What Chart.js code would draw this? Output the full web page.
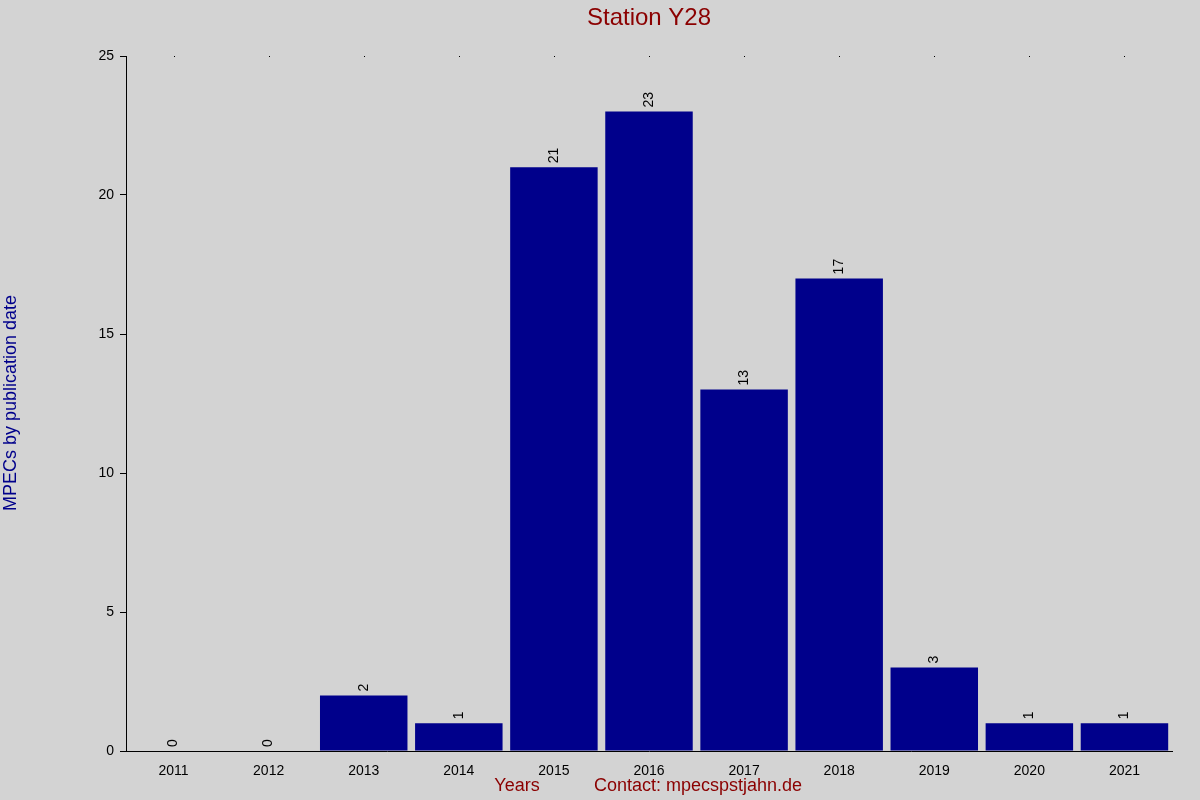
<!DOCTYPE html>
<html><head><meta charset="utf-8">
<script src="https://cdn.jsdelivr.net/npm/chart.js@4"></script>
<style>html,body{margin:0;padding:0;background:#d3d3d3;}#w{width:1200px;height:800px;}</style>
</head><body><div id="w"><canvas id="c"></canvas></div>
<script>
const years = ["2011","2012","2013","2014","2015","2016","2017","2018","2019","2020","2021"];
const counts = [0,0,2,1,21,23,13,17,3,1,1];
const yTicks = [0,5,10,15,20,25];
const FONT = "Liberation Sans, Arial, sans-serif";

const deco = {
  id:'deco',
  afterDatasetsDraw(chart){
    const ctx = chart.ctx, a = chart.chartArea, x = chart.scales.x;
    ctx.save();
    // top dots
    ctx.fillStyle='#000';
    years.forEach((_,i)=>{ctx.fillRect(Math.round(x.getPixelForValue(i)),a.top,1,1);});
    // value labels
    const meta = chart.getDatasetMeta(0);
    ctx.font = "14px "+FONT; ctx.fillStyle='#000';
    ctx.textAlign='left'; ctx.textBaseline='middle';
    meta.data.forEach((b,i)=>{
      ctx.save(); ctx.translate(b.x, b.y-4); ctx.rotate(-Math.PI/2);
      ctx.fillText(String(counts[i]),0,0); ctx.restore();
    });
    // title
    ctx.textAlign='center'; ctx.textBaseline='middle';
    ctx.fillStyle='#8b0000'; ctx.font="24px "+FONT;
    ctx.fillText("Station Y28",649,18);
    ctx.font="18px "+FONT;
    ctx.fillText("Years",517,786);
    ctx.fillText("Contact: mpecspstjahn.de",698,786);
    ctx.save(); ctx.translate(11,403); ctx.rotate(-Math.PI/2);
    ctx.fillStyle='#00008b'; ctx.fillText("MPECs by publication date",0,0); ctx.restore();
    ctx.restore();
  }
};

new Chart(document.getElementById('c'),{
  type:'bar',
  data:{labels:years,datasets:[{data:counts,backgroundColor:'#00008b',barPercentage:0.92,categoryPercentage:1}]},
  options:{
    responsive:true,maintainAspectRatio:false,animation:false,
    layout:{padding:{top:56,right:28,left:0,bottom:0}},
    plugins:{legend:{display:false},tooltip:{enabled:false}},
    scales:{
      x:{grid:{display:false},border:{color:'#000'},
         ticks:{color:'#000',font:{family:FONT,size:14},padding:4},
         afterFit(s){s.height=49;}},
      y:{min:0,max:25,afterBuildTicks(s){s.ticks=yTicks.map(v=>({value:v}));},
         grid:{drawOnChartArea:false,tickLength:6,color:'#000'},border:{color:'#000'},
         ticks:{color:'#000',font:{family:FONT,size:14},padding:6},
         afterFit(s){s.width=126;}}
    }
  },
  plugins:[deco]
});
</script></body></html>
